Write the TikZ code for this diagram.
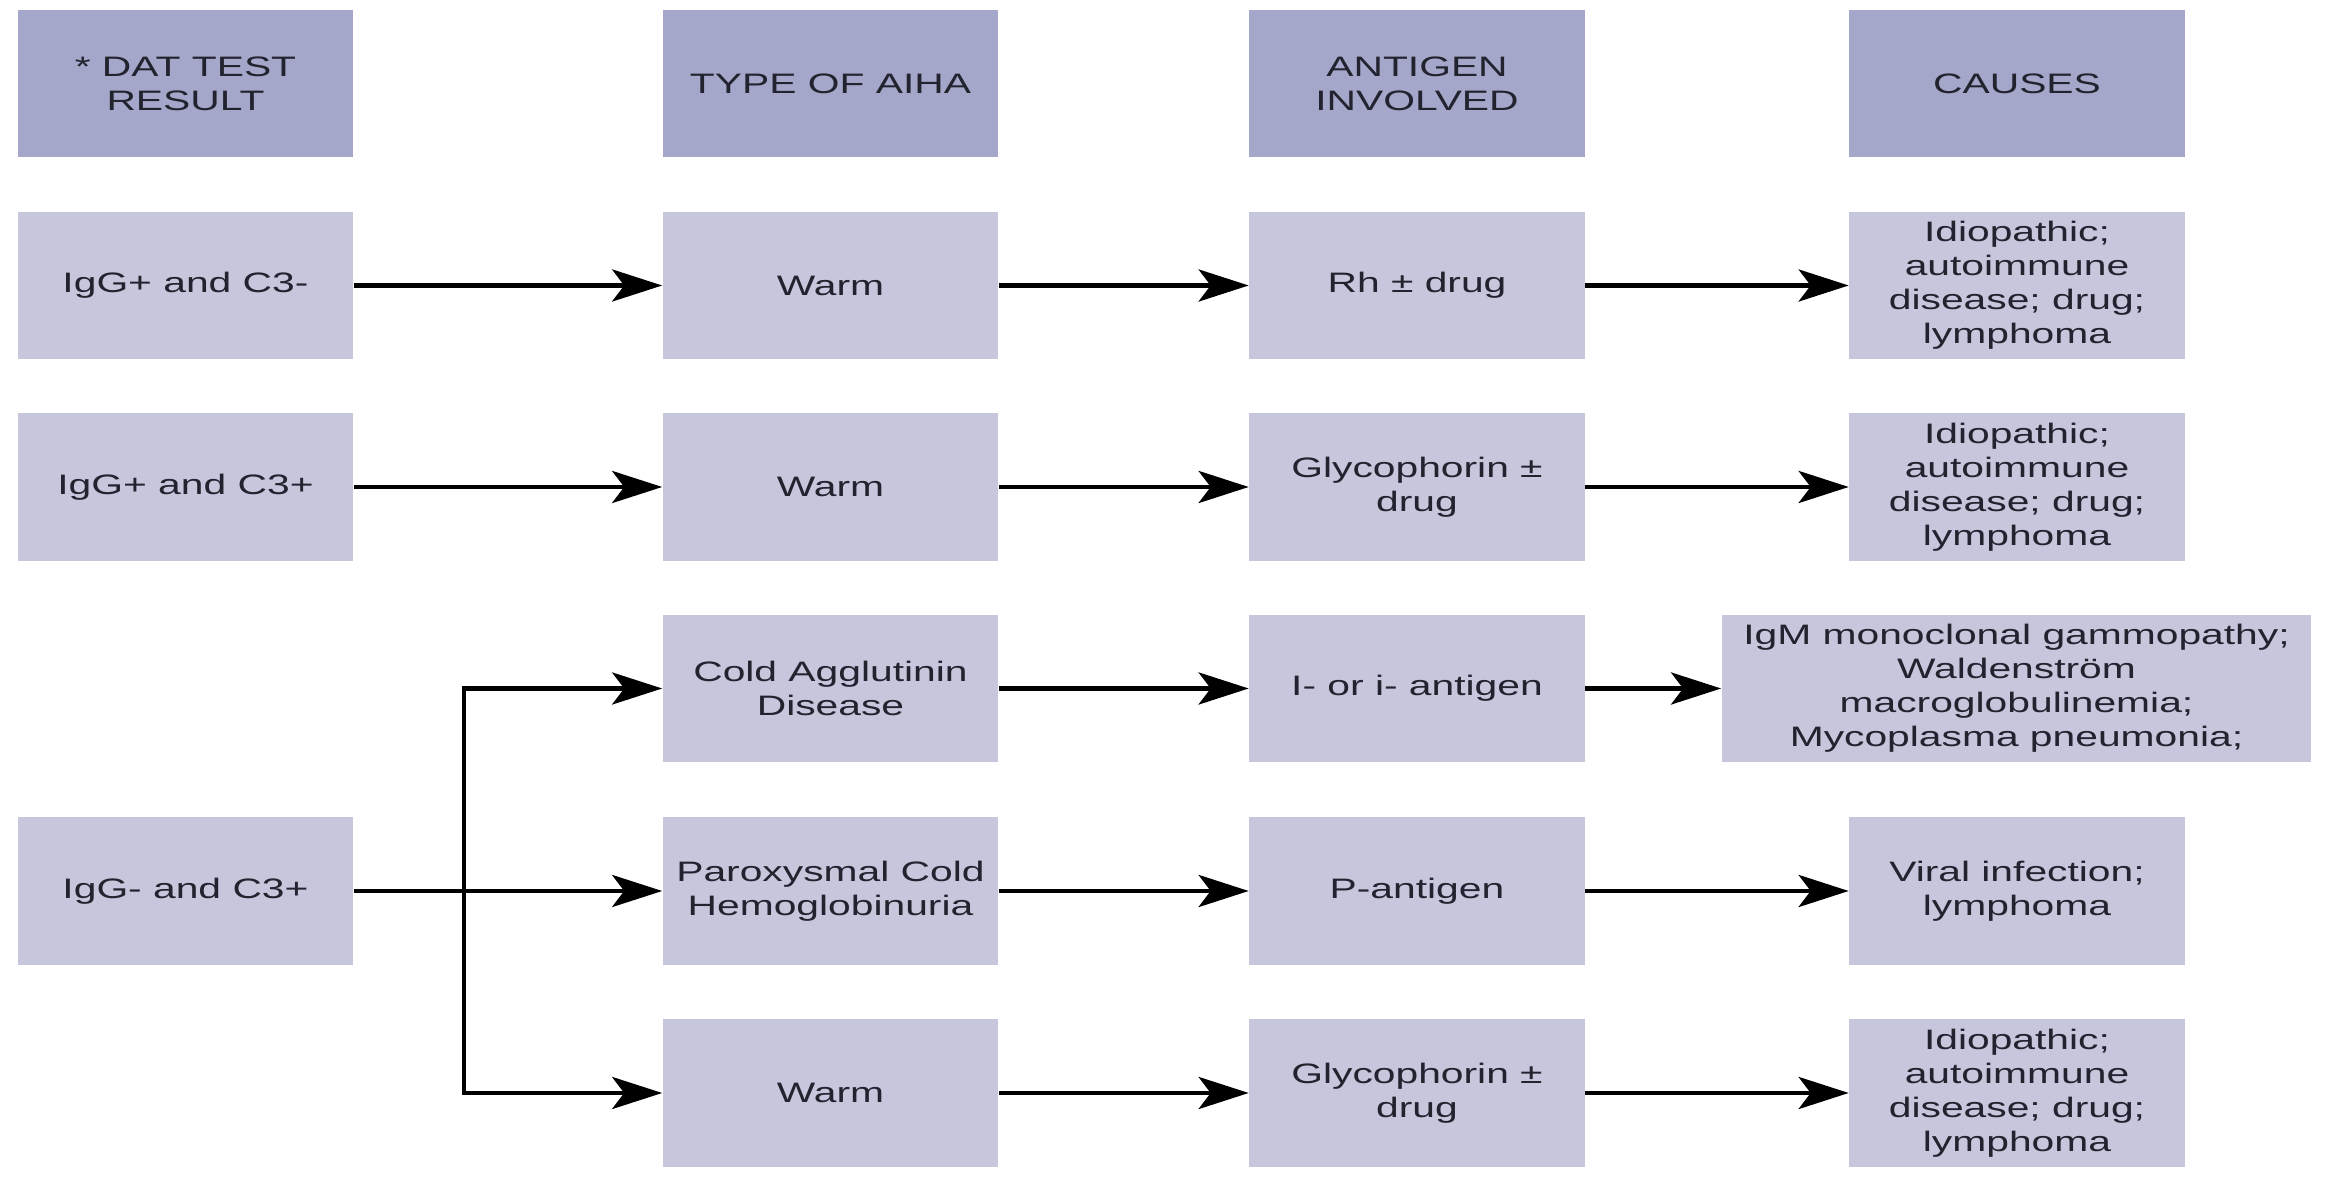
\documentclass[tikz,border=0pt]{standalone}
\usepackage{fontspec}
\usetikzlibrary{arrows.meta}
\newfontfamily\boxfamily[FakeStretch=1.45]{Liberation Sans}
\definecolor{hdrc}{HTML}{A4A7C9}
\definecolor{bodyc}{HTML}{C6C7DD}
\definecolor{txtc}{HTML}{23232F}
\begin{document}
\begin{tikzpicture}[x=0.01cm,y=-0.01cm,
  cell/.style={fill=bodyc, draw=none, minimum width=3.35cm, minimum height=1.47cm,
    inner sep=0pt, align=center, text=txtc, font=\boxfamily\fontsize{8}{9.7}\selectfont},
  hdr/.style={cell, fill=hdrc},
  arr/.style={-{Stealth[length=0.5cm,width=0.32cm,inset=0.12cm]}, line width=1.3pt, draw=black}]
\useasboundingbox (0,0) rectangle (2338,1183);
\fill[white] (0,0) rectangle (2338,1183);
% headers
\node[hdr] (h1) at (185.5,83.5) {* DAT TEST\\RESULT};
\node[hdr] (h2) at (830.5,83.5) {TYPE OF AIHA};
\node[hdr] (h3) at (1417,83.5) {ANTIGEN\\INVOLVED};
\node[hdr] (h4) at (2017,83.5) {CAUSES};
% row 1
\node[cell] (a1) at (185.5,285.5) {IgG+ and C3-};
\node[cell] (a2) at (830.5,285.5) {Warm};
\node[cell] (a3) at (1417,285.5) {Rh ± drug};
\node[cell] (a4) at (2017,285.5) {Idiopathic;\\autoimmune\\disease; drug;\\lymphoma};
% row 2
\node[cell] (b1) at (185.5,487) {IgG+ and C3+};
\node[cell] (b2) at (830.5,487) {Warm};
\node[cell] (b3) at (1417,487) {Glycophorin ±\\drug};
\node[cell] (b4) at (2017,487) {Idiopathic;\\autoimmune\\disease; drug;\\lymphoma};
% row 3
\node[cell] (c2) at (830.5,688.5) {Cold Agglutinin\\Disease};
\node[cell] (c3) at (1417,688.5) {I- or i- antigen};
\node[cell, minimum width=5.89cm] (c4) at (2016.5,688.5) {IgM monoclonal gammopathy;\\Waldenström\\macroglobulinemia;\\Mycoplasma pneumonia;};
% row 4
\node[cell] (d1) at (185.5,891) {IgG- and C3+};
\node[cell] (d2) at (830.5,891) {Paroxysmal Cold\\Hemoglobinuria};
\node[cell] (d3) at (1417,891) {P-antigen};
\node[cell] (d4) at (2017,891) {Viral infection;\\lymphoma};
% row 5
\node[cell] (e2) at (830.5,1093) {Warm};
\node[cell] (e3) at (1417,1093) {Glycophorin ±\\drug};
\node[cell] (e4) at (2017,1093) {Idiopathic;\\autoimmune\\disease; drug;\\lymphoma};
% connectors
\draw[arr] (a1) -- (a2);
\draw[arr] (a2) -- (a3);
\draw[arr] (a3) -- (a4);
\draw[arr] (b1) -- (b2);
\draw[arr] (b2) -- (b3);
\draw[arr] (b3) -- (b4);
\draw[arr] (c2) -- (c3);
\draw[arr] (c3) -- (c4);
\draw[arr] (d1) -- (d2);
\draw[arr] (d2) -- (d3);
\draw[arr] (d3) -- (d4);
\draw[arr] (e2) -- (e3);
\draw[arr] (e3) -- (e4);
\coordinate (j) at (464,891);
\draw[arr] (j) |- (c2.west);
\draw[arr] (j) |- (e2.west);
\end{tikzpicture}
\end{document}
